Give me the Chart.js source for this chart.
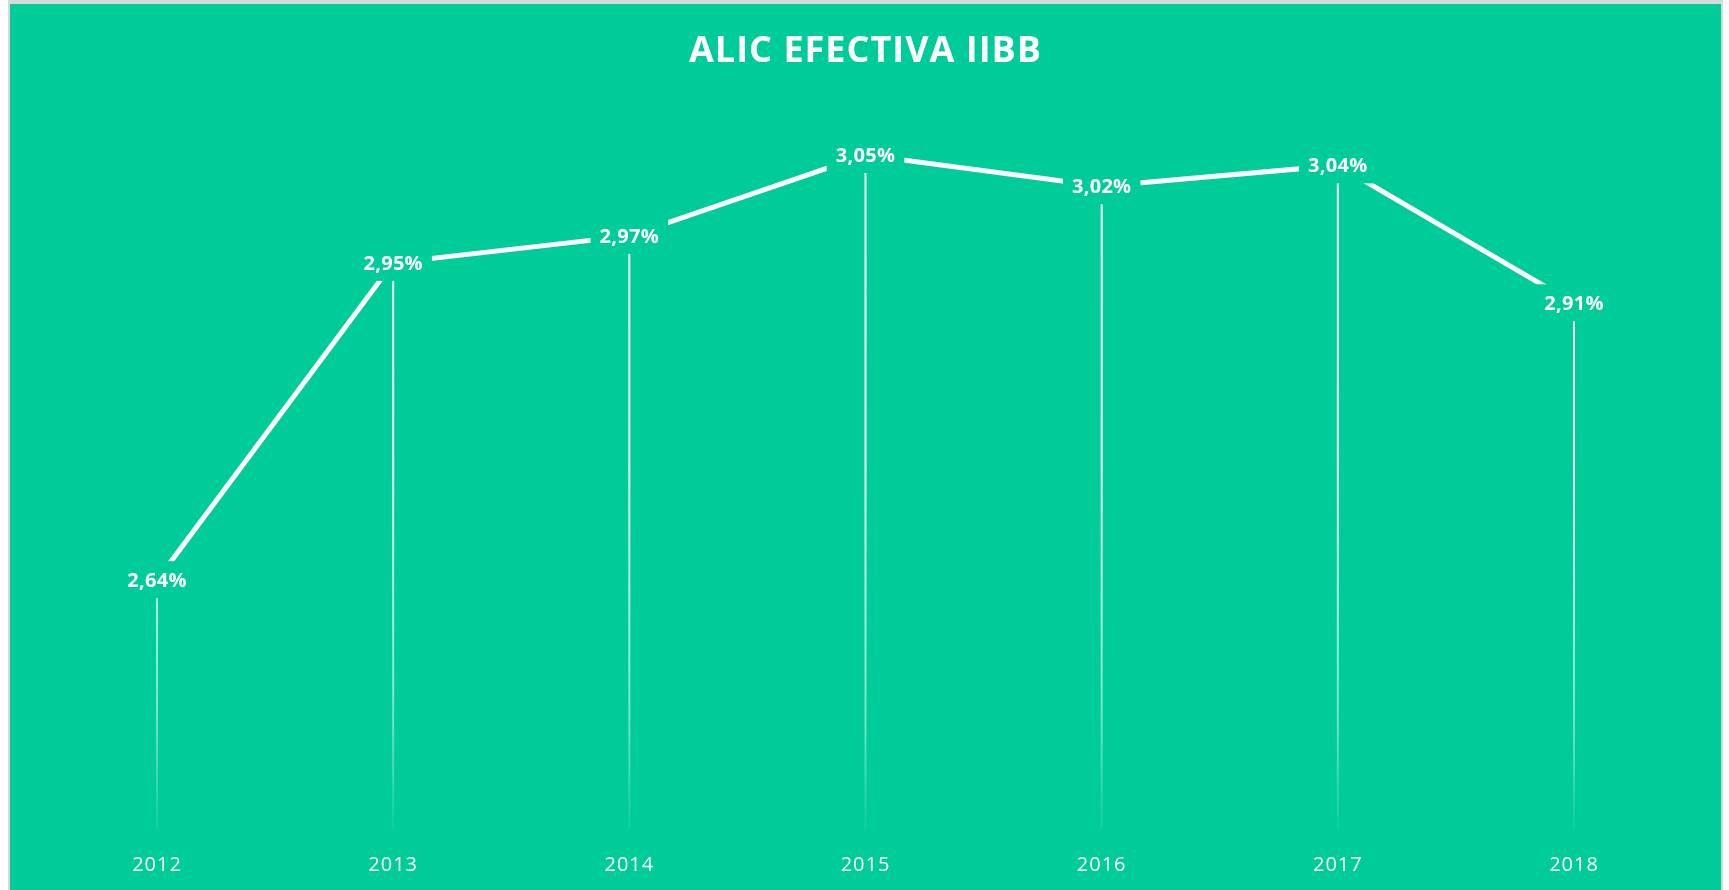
<!DOCTYPE html>
<html>
<head>
<meta charset="utf-8">
<script src="https://cdn.jsdelivr.net/npm/chart.js@4.4.1/dist/chart.umd.min.js"></script>
<style>
  body { margin: 0; background: #fff; overflow: hidden; }
  .frame {
    position: absolute; left: 8px; top: 0;
    width: 1711px; height: 886px;
    border-left: 2px solid #d9d9d9; border-right: 2px solid #d9d9d9; border-top: 4px solid #d9d9d9;
    background: #00cc99;
  }
</style>
</head>
<body>
<div class="frame">
  <canvas id="chart" width="1711" height="886"></canvas>
</div>
<script>
// data (labels show 2 decimals)
const years = ['2012', '2013', '2014', '2015', '2016', '2017', '2018'];
const alicuota = [2.64, 2.946, 2.972, 3.05, 3.02, 3.04, 2.907];
const chartTitle = 'ALIC EFECTIVA IIBB';
const yMin = 2.4;
const yMax = 3.1;

const green = '#00cc99';
Chart.defaults.font.family = '"Open Sans", sans-serif';
Chart.defaults.color = '#ffffff';

const fmt = v => v.toFixed(2).replace('.', ',') + '%';

// a bit of tracking on text, like the original
const spacing = {
    id: 'spacing',
    beforeDraw(chart) { chart.ctx.letterSpacing = '1px'; },
    afterDraw(chart) { chart.ctx.letterSpacing = '0px'; }
};

// drop lines from each point to the bottom, then the value labels on top
const dropLabels = {
    id: 'dropLabels',
    afterDatasetsDraw(chart) {
        const { ctx, chartArea, scales: { x, y } } = chart;
        const grad = ctx.createLinearGradient(0, chartArea.top, 0, chartArea.bottom);
        grad.addColorStop(0, 'rgba(255,255,255,1)');
        grad.addColorStop(0.5, 'rgba(255,255,255,0.95)');
        grad.addColorStop(0.85, 'rgba(255,255,255,0.45)');
        grad.addColorStop(1, 'rgba(255,255,255,0.05)');

        ctx.save();
        ctx.strokeStyle = grad;
        ctx.lineWidth = 2;
        alicuota.forEach((v, i) => {
            const px = x.getPixelForValue(i);
            ctx.beginPath();
            ctx.moveTo(px, y.getPixelForValue(v));
            ctx.lineTo(px, y.getPixelForValue(yMin));
            ctx.stroke();
        });

        ctx.font = 'bold 20px "Open Sans", sans-serif';
        ctx.letterSpacing = '0.3px';
        ctx.textAlign = 'center';
        ctx.textBaseline = 'middle';
        alicuota.forEach((v, i) => {
            const txt = fmt(v);
            const px = x.getPixelForValue(i);
            const py = y.getPixelForValue(v);
            const w = ctx.measureText(txt).width + 18;
            ctx.fillStyle = green;
            ctx.fillRect(px - w / 2, py - 19, w, 37);
            ctx.fillStyle = '#ffffff';
            ctx.fillText(txt, px, py + 1);
        });
        ctx.restore();
    }
};

new Chart(document.getElementById('chart'), {
    type: 'line',
    data: {
        labels: years,
        datasets: [{
            data: alicuota,
            borderColor: '#ffffff',
            borderWidth: 5,
            pointRadius: 0,
            tension: 0,
            fill: false
        }]
    },
    options: {
        responsive: false,
        animation: false,
        layout: { padding: { left: 147, right: 147, top: 0, bottom: 13 } },
        plugins: {
            legend: { display: false },
            tooltip: { enabled: false },
            title: {
                display: true,
                text: chartTitle,
                color: '#ffffff',
                font: { size: 36, weight: 'bold' },
                padding: { top: 26, bottom: 30 }
            }
        },
        scales: {
            x: {
                offset: false,
                grid: { display: false, drawTicks: false },
                border: { display: false },
                ticks: { color: '#ffffff', font: { size: 20 }, padding: 24, maxRotation: 0 },
                afterFit(scale) { scale.height = 48; }
            },
            y: {
                display: false,
                min: yMin,
                max: yMax
            }
        }
    },
    plugins: [spacing, dropLabels]
});
</script>
</body>
</html>
